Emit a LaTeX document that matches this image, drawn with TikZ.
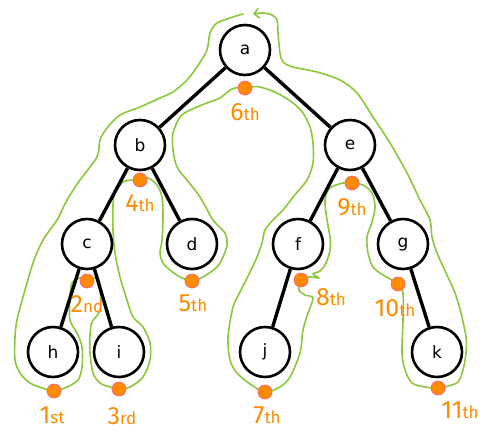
\documentclass[tikz,border=0pt]{standalone}
\usepackage{fontspec}
\setmainfont{DejaVu Sans}
\newfontfamily\orderfont{Fira Sans}
\usetikzlibrary{arrows.meta}
\definecolor{tourgreen}{RGB}{140,200,60}
\definecolor{visitorange}{RGB}{255,140,0}
\definecolor{visitrim}{RGB}{255,95,130}
\newcommand{\ordinal}[2]{{\orderfont\fontsize{25}{25}\selectfont #1\fontsize{17}{17}\selectfont #2}}

\begin{document}
\begin{tikzpicture}[
		x=1pt, y=-1pt,
		vertex/.style={circle, draw, line width=2.6pt, minimum size=50pt, inner sep=0pt,
				font=\fontsize{17}{17}\selectfont},
		edge/.style={line width=3.4pt},
		visitdot/.style={circle, fill=visitorange, draw=visitrim, line width=0.7pt,
				minimum size=14pt, inner sep=0pt},
		order/.style={text=visitorange, inner sep=0pt},
		tour/.style={tourgreen, line width=1.6pt, line join=round, line cap=round},
	]
	\useasboundingbox (0,0) rectangle (500,440);
	\draw[tour, -{Straight Barb[length=5pt,width=10pt]}] plot[smooth, tension=0.5] coordinates {
			(243,14) (233,17) (217,23) (210,33) (207,50) (197,67) (187,80) (173,92) (160,98)
			(140,107) (120,115) (107,128) (100,140) (97,157) (80,180) (67,200) (57,220)
			(43,240) (33,263) (23,297) (17,320) (15,337) (15,360) (20,373) (30,383) (45,389)
			(54,391) (67,387) (78,380) (82,367) (82,347) (77,333) (70,320) (70,297) (72,283)
			(80,278) (87,280) (97,278) (100,285) (100,310) (92,322) (90,335) (90,353) (93,373)
			(100,383) (110,387) (119,389) (130,387) (143,377) (150,360) (150,343) (143,327)
			(133,317) (127,300) (120,277) (115,253) (113,230) (113,205) (115,193) (123,182)
			(133,180) (140,180) (148,178) (157,185) (162,197) (163,217) (162,240) (160,253)
			(163,263) (170,270) (180,277) (192,281) (203,277) (217,267) (223,257) (227,245)
			(225,233) (213,220) (200,197) (187,180) (177,167) (173,150) (173,133) (180,117)
			(190,110) (207,103) (220,98) (230,90) (240,87) (250,87) (260,87) (277,93) (293,103)
			(303,113) (310,127) (313,143) (313,163) (307,180) (293,197) (283,210) (273,220)
			(265,230) (262,243) (257,257) (250,272) (240,292) (233,307) (228,337) (230,360)
			(237,373) (250,384) (265,392) (280,387) (290,377) (300,353) (303,330) (308,313)
			(313,298) (305,295) (299,290) (301,280) (310,277) (319,278) (313,274) (320,271)
			(326,263) (330,250) (330,237) (327,220) (325,200) (330,188) (343,183) (352,183)
			(363,185) (372,193) (375,207) (372,222) (367,237) (368,253) (373,267) (383,275)
			(398,284) (403,293) (403,320) (402,353) (405,370) (412,383) (425,387) (438,388)
			(448,386) (458,382) (463,370) (466,353) (466,337) (461,313) (455,293) (447,275)
			(437,253) (432,237) (430,220) (420,200) (407,173) (390,143) (373,117) (357,93)
			(340,80) (317,72) (293,67) (283,62) (280,53) (278,33) (277,20) (272,15) (263,13)
			(253,14)
		};
	\node[vertex] (a) at (245,50) {a};
	\node[vertex] (b) at (140,145) {b};
	\node[vertex] (e) at (350,145) {e};
	\node[vertex] (c) at (87,244) {c};
	\node[vertex] (d) at (192,244) {d};
	\node[vertex] (f) at (298,244) {f};
	\node[vertex] (g) at (403,244) {g};
	\node[vertex] (h) at (53,352) {h};
	\node[vertex] (i) at (119,352) {i};
	\node[vertex] (j) at (265,352) {j};
	\node[vertex] (k) at (437,352) {k};
	\foreach \u/\v in {a/b, a/e, b/c, b/d, e/f, e/g, c/h, c/i, f/j, g/k} {
			\draw[edge] (\u) -- (\v);
		}
	\foreach \n/\px/\py/\lx/\ly/\s in {1/54/391/52/415/st, 2/87/281/87/304/nd, 3/119/389/122/416/rd,
			4/140/180/140/203/th, 5/192/281/193/303/th, 6/245/88/245/112/th, 7/265/392/267/415/th,
			8/301/280/331/297/th, 9/352/183/352/207/th, 10/398/284/395/308/th, 11/438/388/460/410/th} {
			\node[visitdot] (v\n) at (\px,\py) {};
			\node[order] (o\n) at (\lx,\ly) {\ordinal{\n}{\s}};
		}
\end{tikzpicture}
\end{document}
